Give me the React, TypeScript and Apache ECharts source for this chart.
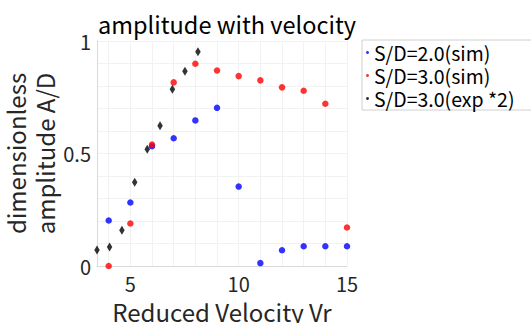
import React, { useEffect, useRef } from "react";
import * as echarts from "echarts";

const simX = [4, 5, 6, 7, 8, 9, 10, 11, 12, 13, 14, 15];
const sd2Sim = [0.202, 0.282, 0.532, 0.568, 0.647, 0.703, 0.353, 0.013, 0.07, 0.088, 0.088, 0.088];
const sd3Sim = [0.0, 0.189, 0.54, 0.816, 0.899, 0.869, 0.844, 0.825, 0.794, 0.779, 0.721, 0.171];
const expX = [3.46, 4.04, 4.61, 5.2, 5.78, 6.37, 6.94, 7.52, 8.12];
const sd3Exp = [0.071, 0.085, 0.159, 0.372, 0.519, 0.623, 0.786, 0.866, 0.952];
const xTickLabels = [5, 10, 15];
const xGridValues = [4, 5, 6, 7, 8, 9, 10, 11, 12, 13, 14, 15];
const yTickLabels = [0, 0.5, 1];
const seriesNames = ["S/D=2.0(sim)", "S/D=3.0(sim)", "S/D=3.0(exp *2)"];

const FONT = "'Noto Sans CJK JP', 'Noto Sans', sans-serif";
const TXT = "#262626";

export default function App() {
  const ref = useRef<HTMLDivElement>(null);
  useEffect(() => {
    if (!ref.current) return;
    const chart = echarts.init(ref.current, undefined, { renderer: "svg" });
    const pair = (xs: number[], ys: number[]) => xs.map((x, i) => [x, ys[i]]);
    chart.setOption({
      animation: false,
      backgroundColor: "#ffffff",
      textStyle: { fontFamily: FONT },
      title: {
        text: "amplitude with velocity",
        left: 222,
        textAlign: "center",
        top: 7,
        textStyle: { fontFamily: FONT, fontSize: 23.5, fontWeight: "normal", color: "#000" },
      },
      legend: {
        orient: "vertical",
        left: 362,
        top: 40,
        padding: [1, 40, 0, 4],
        itemGap: 0,
        itemWidth: 3,
        itemHeight: 3,
        borderColor: "#d0d0d0",
        borderWidth: 1,
        backgroundColor: "#fff",
        textStyle: { fontFamily: FONT, fontSize: 19.5, color: "#000", lineHeight: 23 },
        data: seriesNames.map((n) => ({ name: n, icon: "circle" })),
      },
      grid: {
        left: 97,
        top: 41,
        width: 250,
        height: 225,
        outerBoundsMode: "none",
        containLabel: false,
      },
      xAxis: {
        type: "value",
        min: 3.46,
        max: 15,
        name: "Reduced Velocity Vr",
        nameLocation: "middle",
        nameGap: 33,
        nameTextStyle: { fontFamily: FONT, fontSize: 24, color: TXT },
        axisLine: { show: true, lineStyle: { color: "#d9d9d9", width: 1 } },
        axisTick: { show: false, customValues: xGridValues },
        axisLabel: {
          customValues: xTickLabels,
          fontFamily: FONT,
          fontSize: 20,
          color: TXT,
          margin: 7,
          formatter: (v: number) => String(v),
        },
        splitLine: { show: true, lineStyle: { color: "#f2f2f2", width: 1 } },
      },
      yAxis: {
        type: "value",
        min: 0,
        max: 1,
        interval: 0.1,
        name: "dimensionless\namplitude A/D",
        nameLocation: "middle",
        nameRotate: 90,
        nameGap: 31,
        nameTextStyle: { fontFamily: FONT, fontSize: 24, color: TXT, lineHeight: 29 },
        axisLine: { show: true, lineStyle: { color: "#d9d9d9", width: 1 } },
        axisTick: { show: false },
        axisLabel: {
          customValues: yTickLabels,
          fontFamily: FONT,
          fontSize: 20,
          color: TXT,
          margin: 6,
          formatter: (v: number) => String(v),
        },
        splitLine: { show: true, lineStyle: { color: "#f2f2f2", width: 1 } },
      },
      series: [
        {
          name: seriesNames[0],
          type: "scatter",
          data: pair(simX, sd2Sim),
          symbol: "circle",
          symbolSize: 6.5,
          itemStyle: { color: "#0000ff" },
          clip: false,
        },
        {
          name: seriesNames[1],
          type: "scatter",
          data: pair(simX, sd3Sim),
          symbol: "circle",
          symbolSize: 6.5,
          itemStyle: { color: "#ff0000" },
          clip: false,
        },
        {
          name: seriesNames[2],
          type: "scatter",
          data: pair(expX, sd3Exp),
          symbol: "diamond",
          symbolSize: [5.5, 9],
          itemStyle: { color: "#000000" },
          clip: false,
        },
      ],
    });
    return () => chart.dispose();
  }, []);
  return <div ref={ref} style={{ width: 531, height: 323, position: "absolute", left: 0, top: 0 }} />;
}
